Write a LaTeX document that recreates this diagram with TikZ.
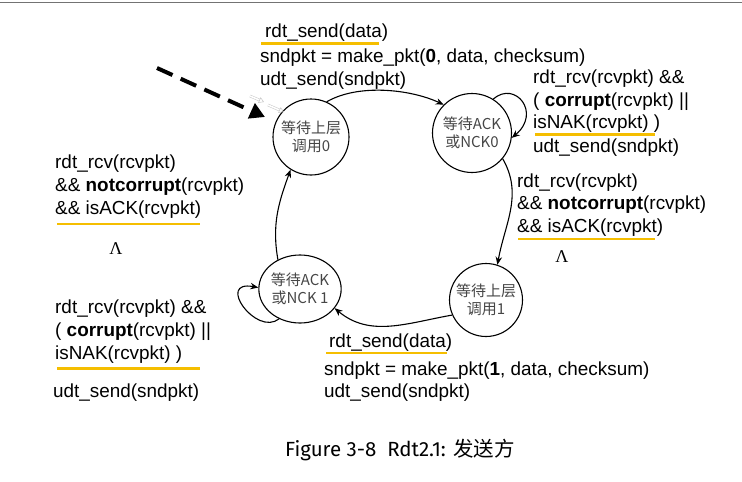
\documentclass[tikz,border=0pt]{standalone}
\usepackage{fontspec}
\setmainfont{Liberation Sans}
\newfontfamily\cjk{Noto Sans CJK SC}
\newfontfamily\capfont{Fira Sans}
\newfontfamily\lamfont{Liberation Serif}
\usetikzlibrary{arrows.meta,shapes.geometric}
\definecolor{gold}{RGB}{245,190,0}
\definecolor{stategray}{RGB}{70,70,70}
\begin{document}
\begin{tikzpicture}[x=1pt,y=-1pt,
  lbl/.style={anchor=base west, inner sep=0pt, font=\fontsize{18.9}{21}\selectfont},
  lam/.style={inner sep=0pt, font=\lamfont\fontsize{18}{21}\selectfont},
  uline/.style={draw=gold, line width=2.4pt},
  state/.style={draw, circle, line width=1.1pt, inner sep=0pt, align=center,
    text=stategray, font=\cjk\fontsize{15}{18.5}\selectfont},
  conn/.style={-{Stealth[length=8pt,width=6.5pt]}, line width=1.1pt},
  ghost/.style={draw=gray!45, line width=0.5pt, double=white, double distance=1.6pt, -{Triangle[open,length=5pt,width=6pt]}}
]
\useasboundingbox (0,0) rectangle (742,482);
\draw[gray!90!black, line width=1.5pt] (0,2.5) -- (742,2.5);

% states
\node[state, minimum size=76pt] (c0) at (311,137) {等待上层\\调用0};
\node[state, minimum size=79pt] (a0) at (472,133) {等待ACK\\或NCK0};
\node[state, minimum size=73pt] (c1) at (486,300) {等待上层\\调用1};
\node[state, ellipse, minimum width=74pt, minimum height=68pt] (a1) at (300,289) {等待ACK\\或NCK 1};

% initial dashed arrow
\coordinate (init) at (157,68);
\coordinate (inittip) at (265,117);
\draw[line width=4pt, dash pattern=on 17pt off 9pt, -{Triangle[length=15pt,width=16pt]}] (init) -- (inittip);
\coordinate (g1a) at (250,96); \coordinate (g1b) at (264,102);
\coordinate (g2a) at (268,105); \coordinate (g2b) at (284,112);
\draw[ghost] (g1a) -- (g1b);
\draw[ghost] (g2a) -- (g2b);

% transitions
\draw[conn] (c0.66) to[out=30,in=155,looseness=0.8] (a0.135);
\draw[conn] (a0.-40) to[out=-60,in=80] (c1.72);
\draw[conn] (c1.-156) to[out=-170,in=-40] (a1.-29);
\draw[conn] (a1.127) to[out=100,in=-110] (c0.-122);
\draw[conn] (a0.58) .. controls +(22,-19) and +(30,-25) .. (a0.-7);
\draw[conn] (a1.-125) .. controls +(-23,18) and +(-43,-8) .. (a1.178);

% top label
\node[lbl] (t1) at (265,37.5) {rdt\_send(data)};
\draw[uline] (261,43.5) -- (379,43.5);
\node[lbl] (t2) at (260,62.5) {sndpkt = make\_pkt(\textbf{0}, data, checksum)};
\node[lbl] (t3) at (260,85) {udt\_send(sndpkt)};

% right top
\node[lbl] (r1) at (533,83) {rdt\_rcv(rcvpkt) \&\&};
\node[lbl] (r2) at (533,106) {( \textbf{corrupt}(rcvpkt) ||};
\node[lbl] (r3) at (533,128.5) {isNAK(rcvpkt) )};
\draw[uline] (535,134.5) -- (655,134.5);
\node[lbl] (r4) at (533,152) {udt\_send(sndpkt)};

% right middle
\node[lbl] (m1) at (517,187) {rdt\_rcv(rcvpkt)};
\node[lbl] (m2) at (517,209.5) {\&\& \textbf{notcorrupt}(rcvpkt)};
\node[lbl] (m3) at (517,232) {\&\& isACK(rcvpkt)};
\draw[uline] (518,239) -- (655,239);
\node[lam] (m4) at (562,257) {Λ};

% left top
\node[lbl] (l1) at (55,168) {rdt\_rcv(rcvpkt)};
\node[lbl] (l2) at (55,191) {\&\& \textbf{notcorrupt}(rcvpkt)};
\node[lbl] (l3) at (55,214) {\&\& isACK(rcvpkt)};
\draw[uline] (57,224) -- (200,224);
\node[lam] (l4) at (116,249) {Λ};

% left bottom
\node[lbl] (b1) at (55,313) {rdt\_rcv(rcvpkt) \&\&};
\node[lbl] (b2) at (55,336.5) {( \textbf{corrupt}(rcvpkt) ||};
\node[lbl] (b3) at (55,359) {isNAK(rcvpkt) )};
\draw[uline] (57,368.5) -- (200,368.5);
\node[lbl] (b4) at (53,397.5) {udt\_send(sndpkt)};

% bottom
\node[lbl] (s1) at (329,347) {rdt\_send(data)};
\draw[uline] (326,353) -- (447,353);
\node[lbl] (s2) at (324,375.5) {sndpkt = make\_pkt(\textbf{1}, data, checksum)};
\node[lbl] (s3) at (324,397) {udt\_send(sndpkt)};

% caption
\node[anchor=base west, inner sep=0pt, font=\capfont\fontsize{20.5}{22}\selectfont] (cap) at (285,456) {Figure 3-8\ \ Rdt2.1: {\cjk 发送方}};
\end{tikzpicture}
\end{document}
